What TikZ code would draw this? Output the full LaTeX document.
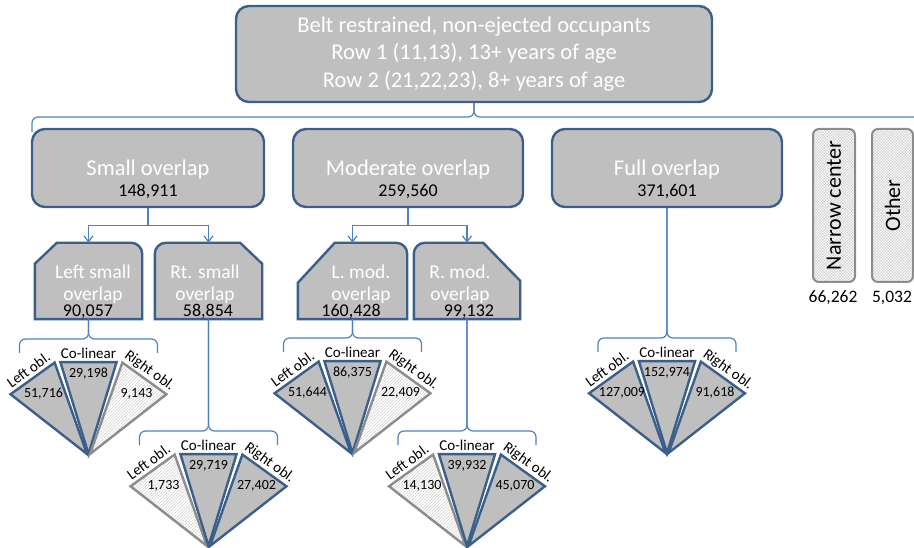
\documentclass[tikz,border=0pt]{standalone}
\usepackage{fontspec}
\setmainfont{Carlito}
\usetikzlibrary{arrows.meta,patterns.meta}

\definecolor{boxgray}{HTML}{BFBFBF}
\definecolor{edgeblue}{HTML}{3A5F8B}
\definecolor{linkblue}{HTML}{4F81BD}
\definecolor{hatchgray}{HTML}{8C8C8C}

\tikzset{
	mainbox/.style={draw=edgeblue, fill=boxgray, line width=2.4pt, rounded corners=13pt, inner sep=0pt},
	subline/.style={draw=edgeblue, fill=boxgray, line width=2.4pt},
	sidebox/.style={draw=hatchgray, line width=2pt, rounded corners=6pt, inner sep=0pt,
		pattern={Hatch[angle=45,distance=2pt,line width=.4pt]}, pattern color=gray!40,
		font=\fontsize{22}{24}\selectfont},
	solidtri/.style={draw=edgeblue, fill=boxgray, line width=2.4pt},
	hatchtri/.style={draw=hatchgray, line width=2.4pt,
		pattern={Lines[angle=45,distance=2.2pt,line width=.5pt]}, pattern color=gray!40},
	link/.style={draw=linkblue, line width=1.2pt},
	brace/.style={link, rounded corners=6pt},
	title/.style={text=white, font=\fontsize{22.5}{27}\selectfont, inner sep=0pt, anchor=base},
	count/.style={font=\fontsize{18}{20}\selectfont, inner sep=0pt, anchor=base},
	subtitle/.style={text=white, font=\fontsize{19.5}{22}\selectfont, align=center, inner sep=0pt},
	fanlabel/.style={font=\fontsize{15}{17}\selectfont, inner sep=0pt},
	fannum/.style={font=\fontsize{14}{16}\selectfont, inner sep=0pt},
}

\begin{document}
\begin{tikzpicture}[x=1pt, y=1pt, >={Straight Barb[length=6pt,width=9pt]}]
	\useasboundingbox (0,0) rectangle (914,-548);

	% top box and its brace
	\node[mainbox, minimum width=476pt, minimum height=96pt, text=white, align=center,
		font=\fontsize{22.5}{27.5}\selectfont] (root) at (474,-54)
		{Belt restrained, non-ejected occupants\\Row 1 (11,13), 13+ years of age\\Row 2 (21,22,23), 8+ years of age};
	\draw[brace] (32,-132) |- (474,-117) -- (root.south);
	\draw[brace] (930,-132) |- (474,-117) -- (root.south);

	% overlap boxes
	\node[mainbox, minimum width=232pt, minimum height=78pt] (small) at (148,-168) {};
	\node[title] (smallname) at (148,-176) {Small overlap};
	\node[count] (smallnum) at (148,-197) {148,911};
	\node[mainbox, minimum width=230pt, minimum height=78pt] (mod) at (408,-168) {};
	\node[title] (modname) at (408,-176) {Moderate overlap};
	\node[count] (modnum) at (408,-197) {259,560};
	\node[mainbox, minimum width=230pt, minimum height=78pt] (full) at (667,-168) {};
	\node[title] (fullname) at (667,-176) {Full overlap};
	\node[count] (fullnum) at (667,-197) {371,601};

	% narrow center and other
	\node[sidebox, rotate=90, minimum width=153pt, minimum height=42pt] (narrow) at (834,-205.5) {Narrow center};
	\node[sidebox, rotate=90, minimum width=153pt, minimum height=41pt] (other) at (892.5,-205.5) {Other};
	\node[count, font=\fontsize{17.5}{20}\selectfont] (narrownum) at (833,-303) {66,262};
	\node[count, font=\fontsize{17.5}{20}\selectfont] (othernum) at (892,-303) {5,032};

	% left / right sub boxes
	\node[inner sep=0pt, minimum width=107pt, minimum height=76pt] (lso) at (88.5,-281) {};
	\draw[subline] (lso.south west) -- ([yshift=-21pt]lso.north west) -- ([xshift=22pt]lso.north west)
		-- ([xshift=-11pt]lso.north east) arc[start angle=90, end angle=0, radius=11pt] -- (lso.south east) -- cycle;
	\node[inner sep=0pt, minimum width=107pt, minimum height=76pt] (rso) at (208.5,-281) {};
	\draw[subline] (rso.south east) -- ([yshift=-21pt]rso.north east) -- ([xshift=-22pt]rso.north east)
		-- ([xshift=11pt]rso.north west) arc[start angle=90, end angle=180, radius=11pt] -- (rso.south west) -- cycle;
	\node[inner sep=0pt, minimum width=109pt, minimum height=76pt] (lmo) at (352.5,-281) {};
	\draw[subline] (lmo.south west) -- ([yshift=-40pt]lmo.north west) -- ([xshift=37pt]lmo.north west)
		-- ([xshift=-11pt]lmo.north east) arc[start angle=90, end angle=0, radius=11pt] -- (lmo.south east) -- cycle;
	\node[inner sep=0pt, minimum width=106pt, minimum height=76pt] (rmo) at (467,-281) {};
	\draw[subline] (rmo.south east) -- ([yshift=-38pt]rmo.north east) -- ([xshift=-37pt]rmo.north east)
		-- ([xshift=11pt]rmo.north west) arc[start angle=90, end angle=180, radius=11pt] -- (rmo.south west) -- cycle;

	\node[subtitle] (lsoname) at (93,-284) {Left small\\overlap};
	\node[count] (lsonum) at (88,-317) {90,057};
	\node[subtitle] (rsoname) at (205,-284) {Rt. small\\overlap};
	\node[count] (rsonum) at (208,-317) {58,854};
	\node[subtitle] (lmoname) at (361,-284) {L. mod.\\overlap};
	\node[count] (lmonum) at (351,-317) {160,428};
	\node[subtitle] (rmoname) at (460,-284) {R. mod.\\overlap};
	\node[count] (rmonum) at (469,-317) {99,132};

	\draw[link, ->] (small.south) -- ++(0,-17) -| (lso.north);
	\draw[link, ->] (small.south) -- ++(0,-17) -| (rso.north);
	\draw[link, ->] (mod.south) -- ++(0,-17) -| (lmo.north);
	\draw[link, ->] (mod.south) -- ++(0,-17) -| (rmo.north);

	% impact fans
	\foreach \ax/\ay/\src/\sl/\sc/\sr/\nl/\nc/\nr/\id in {
		88.5/-454/lso/solidtri/solidtri/hatchtri/{51,716}/{29,198}/{9,143}/a,
		208.5/-546/rso/hatchtri/solidtri/solidtri/{1,733}/{29,719}/{27,402}/b,
		352.5/-453/lmo/solidtri/solidtri/hatchtri/{51,644}/{86,375}/{22,409}/c,
		467/-546/rmo/hatchtri/solidtri/solidtri/{14,130}/{39,932}/{45,070}/d,
		667/-453/full/solidtri/solidtri/solidtri/{127,009}/{152,974}/{91,618}/e} {
		\draw[brace] (\ax-69,\ay+101) |- (\ax,\ay+115) -- (\src.south);
		\draw[brace] (\ax+69,\ay+101) |- (\ax,\ay+115) -- (\src.south);
		\draw[\sl] (\ax-1.5,\ay) -- +(142:97pt) -- +(109.5:97pt) -- cycle;
		\draw[\sc] (\ax,\ay) -- +(107:96pt) -- +(73:96pt) -- cycle;
		\draw[\sr] (\ax+1.5,\ay) -- +(70.5:97pt) -- +(38:97pt) -- cycle;
		\node[fanlabel, rotate=36] (\id-ll) at (\ax-60,\ay+84) {Left obl.};
		\node[fanlabel] (\id-cl) at (\ax,\ay+101) {Co-linear};
		\node[fanlabel, rotate=-36] (\id-rl) at (\ax+61,\ay+83) {Right obl.};
		\node[fannum] (\id-l) at (\ax-45,\ay+60) {\nl};
		\node[fannum] (\id-c) at (\ax,\ay+80) {\nc};
		\node[fannum] (\id-r) at (\ax+48,\ay+60) {\nr};
	}
\end{tikzpicture}
\end{document}
